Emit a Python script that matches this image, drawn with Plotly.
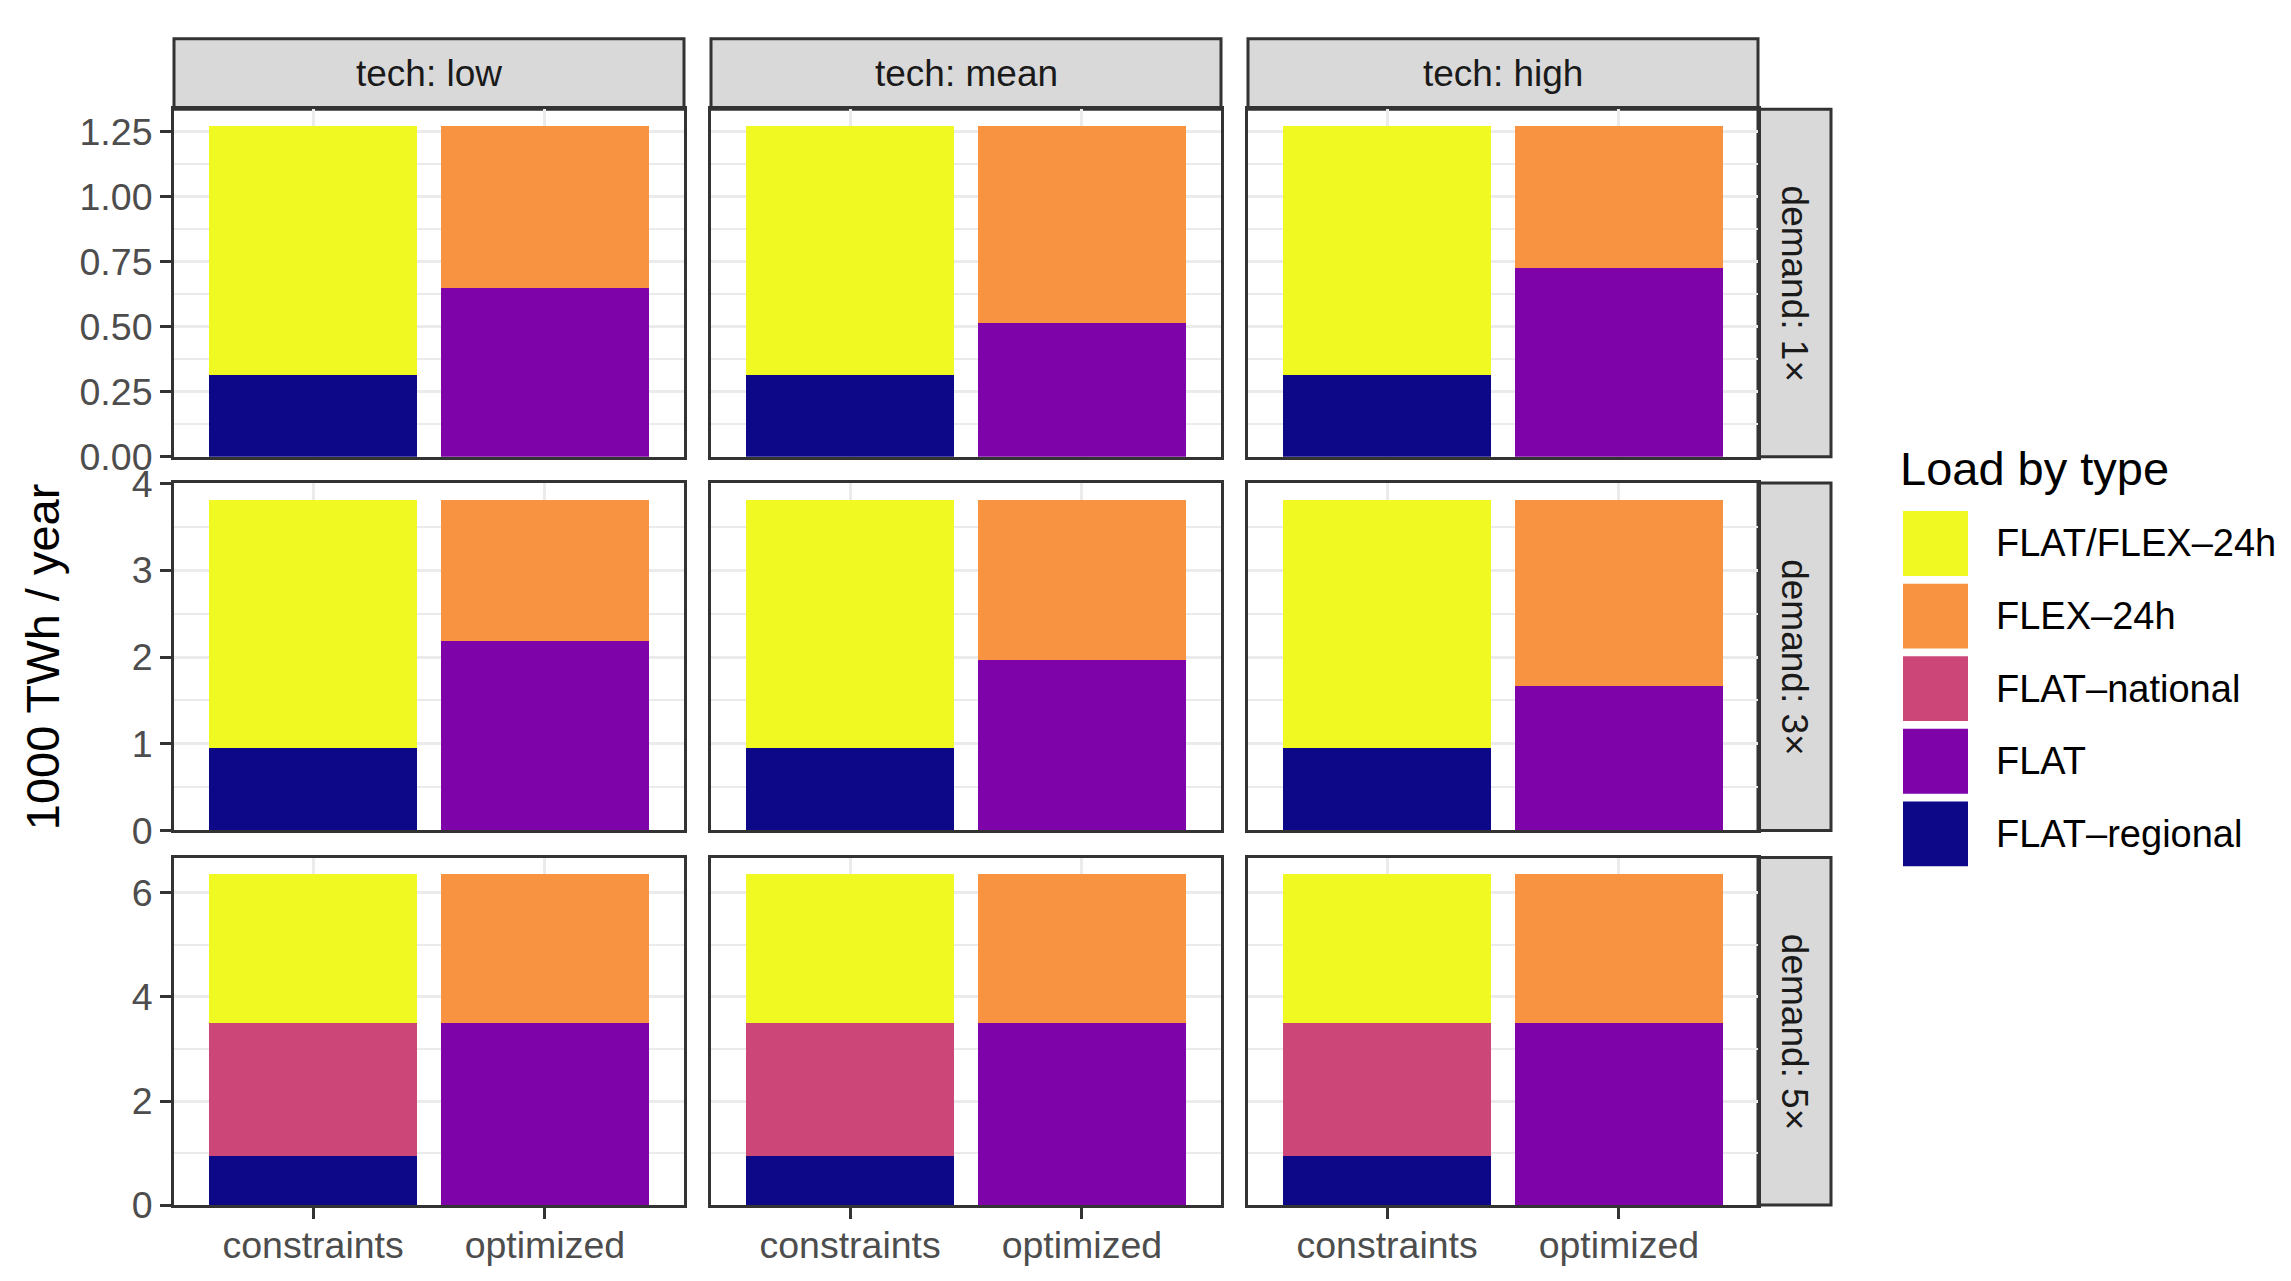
import plotly.graph_objects as go

# ---------------- data ----------------
techs = ["low", "mean", "high"]
demands = ["1×", "3×", "5×"]
categories = ["constraints", "optimized"]
series_names = ["FLAT/FLEX–24h", "FLEX–24h", "FLAT–national", "FLAT", "FLAT–regional"]

# constraints stack (rows = demand, cols = tech)
flat_regional = [[0.316, 0.316, 0.316],
                 [0.947, 0.947, 0.947],
                 [0.947, 0.947, 0.947]]
flat_national = [[0.0, 0.0, 0.0],
                 [0.0, 0.0, 0.0],
                 [2.553, 2.553, 2.553]]
flat_flex_24h = [[0.956, 0.956, 0.956],
                 [2.869, 2.869, 2.869],
                 [2.860, 2.860, 2.860]]
# optimized stack
flat = [[0.648, 0.513, 0.725],
        [2.190, 1.964, 1.665],
        [3.500, 3.500, 3.500]]
flex_24h = [[0.624, 0.759, 0.547],
            [1.626, 1.852, 2.151],
            [2.860, 2.860, 2.860]]

colors = {
    "FLAT/FLEX–24h": "#F0F921",
    "FLEX–24h": "#F89441",
    "FLAT–national": "#CC4778",
    "FLAT": "#7E03A8",
    "FLAT–regional": "#0D0887",
}

row_ticks = [[0, 0.25, 0.5, 0.75, 1.0, 1.25], [0, 1, 2, 3, 4], [0, 2, 4, 6]]
row_ticktext = [["0.00", "0.25", "0.50", "0.75", "1.00", "1.25"],
                ["0", "1", "2", "3", "4"], ["0", "2", "4", "6"]]
row_minor = [0.125, 0.5, 1]

# ---------------- layout geometry (pixels) ----------------
W, H = 2291, 1281
FONT = "Liberation Sans, Arial, sans-serif"
cols_x = [(166, 676), (703, 1213), (1240, 1750)]
rows_y = [(84, 443), (470, 829), (857, 1216)]
strip_top = (11, 84)
strip_right = (1750, 1823)


def px(x):
    return x / W


def py(y):
    return 1 - y / H


fig = go.Figure()
layout = {}

for r in range(3):
    seg_const = [("FLAT–regional", flat_regional[r]), ("FLAT–national", flat_national[r]),
                 ("FLAT/FLEX–24h", flat_flex_24h[r])]
    seg_opt = [("FLAT", flat[r]), ("FLEX–24h", flex_24h[r])]
    ymax = max(max(a + b + c for a, b, c in zip(flat_regional[r], flat_national[r], flat_flex_24h[r])),
               max(a + b for a, b in zip(flat[r], flex_24h[r]))) * 1.05
    for c in range(3):
        k = r * 3 + c + 1
        xa = "x" if k == 1 else f"x{k}"
        ya = "y" if k == 1 else f"y{k}"
        for name, vals in seg_const:
            fig.add_trace(go.Bar(x=[categories[0]], y=[vals[c]], width=[0.9], name=name,
                                 marker=dict(color=colors[name], line=dict(width=0)),
                                 xaxis=xa, yaxis=ya, showlegend=False))
        for name, vals in seg_opt:
            fig.add_trace(go.Bar(x=[categories[1]], y=[vals[c]], width=[0.9], name=name,
                                 marker=dict(color=colors[name], line=dict(width=0)),
                                 xaxis=xa, yaxis=ya, showlegend=False))
        x0, x1 = cols_x[c]
        y0, y1 = rows_y[r]
        xkey = "xaxis" if k == 1 else f"xaxis{k}"
        ykey = "yaxis" if k == 1 else f"yaxis{k}"
        layout[xkey] = dict(
            domain=[px(x0), px(x1)], anchor=ya, type="category",
            categoryorder="array", categoryarray=categories, range=[-0.6, 1.6],
            showgrid=True, gridcolor="#EBEBEB", gridwidth=3,
            showline=True, mirror=True, linecolor="#333333", linewidth=3,
            ticks="outside" if r == 2 else "", ticklen=11, tickwidth=3, tickcolor="#333333",
            ticklabelstandoff=-6,
            showticklabels=(r == 2), tickfont=dict(size=37.5, color="#4D4D4D", family=FONT),
            zeroline=False, fixedrange=True,
        )
        layout[ykey] = dict(
            domain=[py(y1), py(y0)], anchor=xa, range=[0, ymax],
            tickmode="array", tickvals=row_ticks[r], ticktext=row_ticktext[r],
            showgrid=True, gridcolor="#EBEBEB", gridwidth=3,
            minor=dict(dtick=row_minor[r], tick0=0, showgrid=True, gridcolor="#EBEBEB", gridwidth=1.5),
            showline=True, mirror=True, linecolor="#333333", linewidth=3,
            ticks="outside" if c == 0 else "", ticklen=11, tickwidth=3, tickcolor="#333333",
            showticklabels=(c == 0), tickfont=dict(size=37.5, color="#4D4D4D", family=FONT),
            zeroline=False, fixedrange=True,
        )

shapes = []
annotations = []

# top strips
for c, t in enumerate(techs):
    x0, x1 = cols_x[c]
    shapes.append(dict(type="rect", xref="paper", yref="paper", x0=px(x0), x1=px(x1),
                       y0=py(strip_top[1]), y1=py(strip_top[0]), fillcolor="#D9D9D9",
                       line=dict(color="#333333", width=3), layer="below"))
    annotations.append(dict(text=f"tech: {t}", xref="paper", yref="paper",
                            x=px((x0 + x1) / 2), y=py((strip_top[0] + strip_top[1]) / 2),
                            showarrow=False, xanchor="center", yanchor="middle",
                            font=dict(size=37, color="#1A1A1A", family=FONT)))
# right strips
for r, d in enumerate(demands):
    y0, y1 = rows_y[r]
    shapes.append(dict(type="rect", xref="paper", yref="paper", x0=px(strip_right[0]), x1=px(strip_right[1]),
                       y0=py(y1), y1=py(y0), fillcolor="#D9D9D9",
                       line=dict(color="#333333", width=3), layer="below"))
    annotations.append(dict(text=f"demand: {d}", xref="paper", yref="paper",
                            x=px((strip_right[0] + strip_right[1]) / 2), y=py((y0 + y1) / 2),
                            showarrow=False, xanchor="center", yanchor="middle", textangle=90,
                            font=dict(size=37, color="#1A1A1A", family=FONT)))

# y-axis title
annotations.append(dict(text="1000 TWh / year", xref="paper", yref="paper",
                        x=px(34), y=py((rows_y[0][0] + rows_y[2][1]) / 2), showarrow=False,
                        xanchor="center", yanchor="middle", textangle=-90,
                        font=dict(size=47, color="black", family=FONT)))

# legend (drawn manually to match large ggplot keys)
annotations.append(dict(text="Load by type", xref="paper", yref="paper", x=px(1890), y=py(455),
                        showarrow=False, xanchor="left", yanchor="middle",
                        font=dict(size=47, color="black", family=FONT)))
key_top = 499
key_pitch = 75
key_h = 67
for i, name in enumerate(series_names):
    t = key_top + i * key_pitch
    shapes.append(dict(type="rect", xref="paper", yref="paper", x0=px(1895), x1=px(1960),
                       y0=py(t + key_h), y1=py(t), fillcolor=colors[name], line=dict(width=0)))
    annotations.append(dict(text=name, xref="paper", yref="paper", x=px(1986), y=py(t + key_h / 2),
                            showarrow=False, xanchor="left", yanchor="middle",
                            font=dict(size=38, color="black", family=FONT)))

fig.update_layout(
    width=W, height=H, margin=dict(l=0, r=0, t=0, b=0),
    paper_bgcolor="white", plot_bgcolor="white",
    barmode="stack", showlegend=False,
    font=dict(family=FONT),
    shapes=shapes, annotations=annotations,
    **layout,
)

fig.write_html("out.html")
